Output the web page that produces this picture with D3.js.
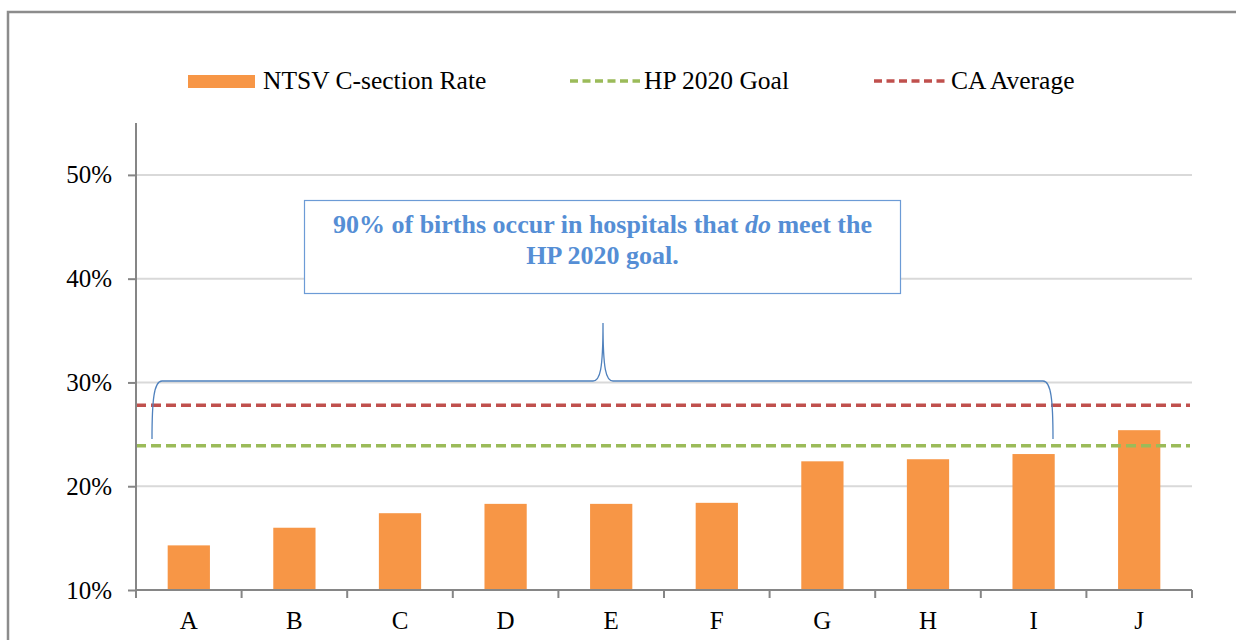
<!DOCTYPE html>
<html lang="en">
<head>
  <meta charset="UTF-8">
  <title>NTSV C-section Rate by hospital</title>
  <style>
    *{box-sizing:border-box;margin:0;padding:0}
    body{background:#fff;width:1236px;height:640px;overflow:hidden}
    svg{display:block;font-family:'Liberation Serif','DejaVu Serif',serif}
    .grid line{stroke:#d9d9d9;stroke-width:2px}
    .axis path,.axis line{stroke:#868686;stroke-width:2px}
    .axis text{font-family:'Liberation Serif','DejaVu Serif',serif;font-size:25px;fill:#000}
    .legend text{font-size:25.5px;fill:#000}
    .note{font-size:26px;font-weight:bold;fill:#558ed5}
  </style>
  <script src="https://d3js.org/d3.v7.min.js"></script>
</head>
<body>
  <div id="chart"></div>
  <script>
    /* ---------- DATA ---------- */
    const hospitals = ['A','B','C','D','E','F','G','H','I','J'];
    const rates     = [14.3,16.0,17.4,18.3,18.3,18.4,22.4,22.6,23.1,25.4];
    const hpGoal    = 23.9;
    const caAverage = 27.8;
    const yTicks    = [10,20,30,40,50];

    /* ---------- SETUP ---------- */
    const W=1236,H=640;
    const plot={left:136,right:1192,top:123,bottom:590};
    const svg=d3.select('#chart').append('svg').attr('width',W).attr('height',H);

    // frame round the chart
    svg.append('rect').attr('x',8).attr('y',12).attr('width',W+20).attr('height',H+20)
       .attr('fill','none').attr('stroke','#8c8c8c').attr('stroke-width',2.5);

    const xb=d3.scaleBand().domain(hospitals).range([plot.left,plot.right]);
    const y=d3.scaleLinear().domain([10,55]).range([plot.bottom,plot.top]);

    /* ---- GRID ---- */
    svg.append('g').attr('class','grid').selectAll('line').data(yTicks.slice(1)).join('line')
       .attr('x1',plot.left).attr('x2',plot.right).attr('y1',d=>y(d)).attr('y2',d=>y(d));

    /* ---- BARS ---- */
    svg.append('g').selectAll('rect').data(rates).join('rect')
       .attr('x',(d,i)=>xb(hospitals[i])+xb.bandwidth()*0.3)
       .attr('width',xb.bandwidth()*0.4)
       .attr('y',d=>y(d)).attr('height',d=>y(10)-y(d))
       .attr('fill','#f79646');

    /* ---- REFERENCE LINES ---- */
    const refs=[{v:hpGoal,c:'#9bbb59'},{v:caAverage,c:'#c0504d'}];
    svg.append('g').selectAll('line').data(refs).join('line')
       .attr('x1',plot.left).attr('x2',plot.right-2)
       .attr('y1',d=>y(d.v)).attr('y2',d=>y(d.v))
       .attr('stroke',d=>d.c).attr('stroke-width',3.5).attr('stroke-dasharray','10,5');

    /* ---- AXES ---- */
    const yAxis=svg.append('g').attr('class','axis').attr('transform',`translate(${plot.left},0)`)
       .call(d3.axisLeft(y).tickValues(yTicks).tickSize(8).tickPadding(16).tickFormat(d=>d+'%'));
    yAxis.attr('font-family',null).attr('font-size',null);
    yAxis.select('.domain').attr('d',`M0,${plot.top}V${plot.bottom}`);
    yAxis.selectAll('text').attr('dy','0.32em');

    const xAxis=svg.append('g').attr('class','axis').attr('transform',`translate(0,${plot.bottom})`)
       .call(d3.axisBottom(xb).tickSize(0).tickPadding(0));
    xAxis.attr('font-family',null).attr('font-size',null);
    xAxis.select('.domain').attr('d',`M${plot.left},0H${plot.right}`);
    xAxis.selectAll('text').attr('dy','0').attr('y',39);
    // boundary ticks between categories
    xAxis.append('g').selectAll('line').data(hospitals.concat(['end'])).join('line')
       .attr('x1',(d,i)=>plot.left+i*xb.step()).attr('x2',(d,i)=>plot.left+i*xb.step())
       .attr('y1',0).attr('y2',8);

    /* ---- LEGEND ---- */
    const lg=svg.append('g').attr('class','legend');
    lg.append('rect').attr('x',188).attr('y',75).attr('width',67).attr('height',13).attr('fill','#f79646');
    lg.append('text').attr('x',263).attr('y',89).text('NTSV C-section Rate');
    lg.append('line').attr('x1',570).attr('x2',640).attr('y1',81).attr('y2',81)
      .attr('stroke','#9bbb59').attr('stroke-width',3.5).attr('stroke-dasharray','8,4.5');
    lg.append('text').attr('x',644).attr('y',89).text('HP 2020 Goal');
    lg.append('line').attr('x1',874).attr('x2',946).attr('y1',81).attr('y2',81)
      .attr('stroke','#c0504d').attr('stroke-width',3.5).attr('stroke-dasharray','8,4.5');
    lg.append('text').attr('x',951).attr('y',89).text('CA Average');

    /* ---- BRACE over the hospitals meeting the goal ---- */
    const braceL=152,braceR=1053,braceMid=603,braceY=381,braceEnd=439,braceTop=323;
    const brace=d3.path();
    brace.moveTo(braceL,braceEnd);
    brace.bezierCurveTo(braceL,400,braceL+2,braceY,braceL+10,braceY);
    brace.lineTo(braceMid-10,braceY);
    brace.bezierCurveTo(braceMid-3,braceY,braceMid,370,braceMid,braceTop);
    brace.bezierCurveTo(braceMid,370,braceMid+3,braceY,braceMid+10,braceY);
    brace.lineTo(braceR-10,braceY);
    brace.bezierCurveTo(braceR-2,braceY,braceR,400,braceR,braceEnd);
    svg.append('path').attr('d',brace.toString()).attr('fill','none')
       .attr('stroke','#4f81bd').attr('stroke-width',1.3);

    /* ---- NOTE BOX ---- */
    svg.append('rect').attr('x',304.5).attr('y',200.5).attr('width',596).attr('height',93)
       .attr('fill','#fff').attr('stroke','#6c9bd6').attr('stroke-width',1.2);
    const note=svg.append('text').attr('class','note').attr('text-anchor','middle');
    const l1=note.append('tspan').attr('x',602.5).attr('y',233);
    l1.append('tspan').text('90% of births occur in hospitals that ');
    l1.append('tspan').attr('font-style','italic').text('do');
    l1.append('tspan').text(' meet the');
    note.append('tspan').attr('x',602.5).attr('y',264).text('HP 2020 goal.');
  </script>
</body>
</html>
